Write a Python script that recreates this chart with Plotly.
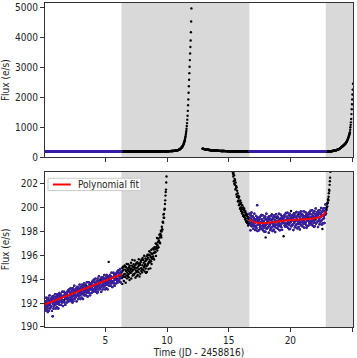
import numpy as np
import plotly.graph_objects as go

# ---------------- data ----------------
CADENCE = 0.020833            # days, 30-min full-frame-image cadence
orbit1_start = 0.10           # days (JD - 2458816)
orbit2_start = 12.87

orbit1_flux = [
    192.15, 191.45, 191.95, 191.65, 192.45, 191.75, 191.35, 192.05, 191.85, 192.25, 191.55, 191.25,
    191.75, 192.45, 191.35, 192.05, 192.25, 191.85, 192.65, 191.55, 191.95, 192.15, 191.65, 192.35,
    192.15, 191.75, 192.45, 191.35, 192.25, 192.55, 190.90, 191.95, 192.35, 191.55, 192.55, 192.05,
    191.75, 192.35, 192.15, 192.75, 191.85, 192.25, 191.55, 192.45, 192.05, 192.55, 191.95, 191.65,
    192.75, 192.15, 191.95, 192.45, 191.55, 192.65, 192.35, 192.05, 192.85, 191.85, 192.25, 192.55,
    192.35, 192.75, 192.15, 191.85, 192.65, 192.45, 192.05, 192.95, 192.25, 192.55, 191.75, 192.55,
    192.15, 192.55, 192.95, 192.25, 192.05, 192.75, 192.45, 191.85, 192.85, 192.65, 192.35, 192.55,
    192.75, 192.05, 192.85, 192.95, 192.45, 192.25, 193.05, 192.35, 192.15, 192.65, 193.15, 192.35,
    192.95, 192.25, 192.75, 192.45, 193.25, 192.55, 192.15, 192.85, 192.65, 193.05, 192.35, 192.05,
    192.55, 193.25, 192.15, 192.85, 193.05, 192.65, 193.45, 192.35, 192.75, 192.95, 192.45, 193.15,
    192.95, 192.55, 193.25, 192.15, 193.05, 193.35, 192.65, 192.75, 193.15, 192.35, 193.35, 192.85,
    192.55, 193.15, 192.95, 193.55, 192.65, 193.05, 192.35, 193.25, 192.85, 193.35, 192.75, 192.45,
    193.55, 192.95, 192.75, 193.25, 192.35, 193.45, 193.15, 192.85, 193.65, 192.65, 193.05, 193.35,
    193.15, 193.55, 192.95, 192.65, 193.45, 193.25, 192.85, 193.75, 193.05, 193.35, 192.55, 193.35,
    192.95, 193.35, 193.75, 193.05, 192.85, 193.55, 193.25, 192.65, 193.65, 193.45, 193.15, 193.35,
    193.55, 192.85, 193.65, 193.75, 193.25, 193.05, 193.85, 193.15, 192.95, 193.45, 193.95, 193.15,
    193.75, 193.05, 193.55, 193.25, 194.05, 193.35, 192.95, 193.65, 193.45, 193.85, 193.15, 192.85,
    193.35, 194.05, 192.95, 193.65, 193.85, 193.45, 194.25, 193.15, 193.55, 193.75, 193.25, 193.95,
    193.75, 193.35, 194.05, 192.95, 193.85, 194.15, 193.45, 193.55, 193.95, 193.15, 194.15, 193.65,
    193.35, 193.95, 193.75, 194.35, 193.45, 193.85, 193.15, 194.05, 193.65, 194.15, 193.55, 193.25,
    194.35, 193.75, 193.55, 194.05, 193.15, 194.25, 193.95, 193.65, 195.45, 193.45, 193.85, 194.15,
    193.95, 194.35, 193.75, 193.45, 194.25, 194.05, 193.65, 194.55, 193.85, 194.15, 193.35, 194.15,
    193.75, 194.15, 194.55, 193.85, 193.65, 194.35, 194.05, 193.45, 194.45, 194.25, 193.95, 194.15,
    194.35, 193.65, 194.45, 194.55, 194.05, 193.85, 194.65, 193.95, 193.75, 194.25, 194.75, 193.95,
    194.55, 193.85, 194.35, 194.05, 194.85, 194.15, 193.75, 194.45, 194.25, 194.65,
    194.57, 194.09, 194.93, 193.61, 194.69, 195.05, 194.21, 194.33, 194.81, 193.85, 195.05, 194.45,
    195.15, 194.43, 194.19, 194.79, 193.71, 195.03, 194.67, 194.31, 195.27, 194.07, 194.55, 194.91,
    194.29, 194.77, 195.25, 194.41, 194.17, 195.01, 194.65, 193.93, 195.13, 194.89, 194.53, 194.77,
    194.54, 195.38, 194.06, 194.90, 195.14, 194.66, 195.62, 194.30, 194.78, 195.02, 194.42, 195.26,
    194.37, 195.09, 194.85, 195.57, 194.49, 194.97, 194.13, 195.21, 194.73, 195.33, 194.61, 194.25,
    194.95, 195.43, 194.71, 194.35, 195.31, 195.07, 194.59, 195.67, 194.83, 195.19, 194.23, 195.19,
    195.29, 194.45, 195.41, 195.53, 194.93, 194.69, 195.65, 194.81, 194.57, 195.17, 195.77, 194.81,
    195.61, 194.77, 195.37, 195.01, 195.97, 195.13, 194.65, 195.49, 195.25, 195.73, 194.89, 194.53,
    195.57, 195.09, 195.93, 194.61, 195.69, 196.05, 195.21, 195.33, 195.81, 194.85, 196.05, 195.45,
    196.35, 195.63, 195.39, 195.99, 194.91, 196.23, 195.87, 195.51, 196.47, 195.27, 195.75, 196.11,
    195.70, 196.14, 196.57, 195.91, 195.75, 196.48, 196.22, 195.65, 196.69, 196.53, 196.26, 196.50,
    196.25, 197.00, 195.95, 196.70, 196.95, 196.60, 197.45, 196.40, 196.85, 197.10, 196.65, 197.40,
    196.68, 197.24, 197.16, 197.73, 197.09, 197.49, 197.01, 197.81, 197.57, 198.06, 197.66, 197.50,
    198.00, 198.39, 198.18, 198.15, 198.78, 198.81, 198.72, 199.41, 199.14, 199.47, 199.14, 199.82,
    199.90, 200.30, 200.60, 201.00, 201.30, 201.50, 202.10, 202.60,
    203.1, 203.6, 204.0, 204.4, 204.8, 205.1, 205.4, 205.7, 206.0, 206.3,
    206.6, 206.9, 207.2, 207.5, 207.9, 208.3, 208.7, 209.1, 209.5, 210.0,
    210.5, 211.0, 211.6, 212.2, 212.9, 213.6, 214.4, 215.2, 216.1, 217.0,
    218.0, 219.0, 220.0, 221.1, 222.3, 223.6, 225.0, 226.5, 228.2, 230.0,
    232, 234, 236.5, 239, 242, 245.5, 249, 253, 257, 262,
    267, 273, 279, 286, 293, 301, 310, 319, 329, 340,
    352, 365, 380, 396, 414, 434, 456, 481, 508, 538,
    572, 610, 652, 699, 752, 812, 880, 957, 1045, 1145,
    1260, 1389, 1553, 1740, 1937, 2157, 2374, 2594, 2814, 3030,
    3250, 3470, 3687, 3907, 4180, 4540, 4980,
]

orbit2_flux = [
    290, 288, 286, 284, 282, 280, 277, 275, 274, 272,
    270, 268, 266, 265, 263, 261, 260, 258, 257, 255,
    254, 253, 251, 250, 249, 247, 246, 245, 244, 243,
    242, 240, 239, 238, 237, 236, 236, 235, 234, 233,
    232, 231, 230, 229.5, 228.7, 227.9, 227.2, 226.5, 225.8, 225.1,
    224.4, 223.8, 223.1, 222.5, 221.9, 221.3, 220.8, 220.2, 219.7, 219.1,
    218.6, 218.1, 217.6, 217.1, 216.7, 216.2, 215.8, 215.4, 214.9, 214.5,
    214.1, 213.7, 213.4, 213.0, 212.6, 212.3, 211.9, 211.6, 211.3, 210.9,
    210.6, 210.3, 210.0, 209.7, 209.4, 209.2, 208.9, 208.7, 208.4, 208.2,
    207.9, 207.7, 207.5, 207.2, 207.0, 206.8, 206.6, 206.4, 206.2, 206.0,
    205.8, 205.6, 205.4, 205.3, 205.1, 204.9, 204.8, 204.6, 204.5, 204.3,
    204.2, 203.7, 204.1, 203.5, 203.9, 203.2, 203.6, 203.0, 203.4, 202.8,
    202.6, 202.9, 202.2, 202.7, 202.0, 202.4, 201.9, 202.3, 201.5, 202.1,
    201.6, 201.8, 201.1, 201.7, 200.9, 201.4, 200.9, 201.2, 200.5, 201.0,
    200.6, 200.8, 200.2, 200.9, 200.3, 200.5, 199.9, 200.6, 200.0, 200.3,
    199.7, 200.4, 199.8, 200.0, 199.5, 200.2, 199.6, 199.9, 199.3, 200.0,
    199.4, 199.8, 199.2, 199.9, 199.3, 199.6, 199.0, 199.7, 199.1, 199.4,
    198.8, 199.5, 198.9, 199.3, 198.7, 199.4, 198.8, 199.1, 198.5, 199.2,
    198.6, 199.0, 198.7,
    199.48, 198.78, 198.55, 199.13, 198.09, 199.36, 199.02, 198.67, 199.59, 198.44, 198.90, 199.25,
    198.80, 199.26, 198.57, 198.22, 199.15, 198.92, 198.45, 199.49, 198.68, 199.03, 198.11, 199.03,
    198.37, 198.84, 199.30, 198.49, 198.26, 199.07, 200.20, 198.03, 199.18, 198.95, 198.60, 198.84,
    198.91, 198.10, 199.03, 199.14, 198.56, 198.33, 199.26, 198.45, 198.22, 198.80, 199.37, 198.45,
    199.00, 198.19, 198.77, 198.42, 199.34, 198.53, 198.07, 198.88, 198.65, 199.11, 198.30, 197.96,
    198.44, 199.25, 197.98, 197.50, 199.02, 198.55, 199.48, 198.21, 198.67, 198.90, 198.32, 199.13,
    198.82, 198.35, 199.16, 197.89, 198.93, 199.28, 198.47, 198.58, 199.05, 198.12, 199.28, 198.70,
    198.27, 198.96, 198.73, 199.42, 198.38, 198.85, 198.04, 199.08, 198.61, 199.19, 198.50, 198.15,
    199.34, 198.64, 198.41, 198.99, 197.95, 199.22, 198.88, 198.53, 199.45, 198.30, 198.76, 199.11,
    198.79, 199.25, 198.56, 198.21, 199.14, 198.91, 198.44, 199.48, 198.67, 199.02, 198.10, 199.02,
    198.47, 198.94, 199.40, 198.59, 198.36, 199.17, 198.82, 198.13, 199.28, 199.05, 198.70, 198.94,
    199.08, 197.60, 199.20, 199.31, 198.73, 198.50, 199.43, 198.62, 198.39, 198.97, 199.54, 198.62,
    199.23, 198.42, 199.00, 198.65, 199.57, 198.76, 198.30, 199.11, 198.88, 199.34, 198.53, 198.19,
    198.67, 199.48, 198.21, 199.02, 199.25, 198.78, 199.71, 198.44, 198.90, 199.13, 198.55, 199.36,
    199.05, 198.58, 199.39, 198.12, 199.16, 199.51, 198.70, 198.81, 199.28, 198.35, 199.51, 198.93,
    198.49, 199.18, 198.95, 199.64, 198.60, 199.07, 198.26, 199.30, 198.83, 199.41, 198.72, 198.37,
    199.56, 198.86, 198.63, 199.21, 198.17, 199.44, 199.10, 198.75, 199.67, 198.52, 198.98, 199.33,
    199.00, 199.46, 198.77, 198.42, 199.35, 199.12, 198.65, 199.69, 198.88, 199.23, 198.31, 199.23,
    198.67, 199.14, 199.60, 198.79, 198.56, 199.37, 199.02, 198.33, 199.48, 199.25, 198.90, 199.14,
    199.28, 198.47, 199.40, 199.51, 198.93, 198.70, 199.63, 198.82, 198.59, 199.17, 199.74, 198.82,
    199.43, 198.62, 199.20, 198.85, 199.77, 198.96, 198.50, 199.31, 199.08, 199.54, 198.73, 198.39,
    198.89, 199.70, 198.43, 199.24, 199.47, 199.00, 199.93, 198.66, 199.12, 199.35, 198.77, 199.58,
    199.30, 198.83, 199.64, 198.37, 199.41, 199.76, 198.95, 199.06, 199.53, 198.60, 199.76, 199.18,
    198.81, 199.50, 199.27, 199.96, 198.92, 199.39, 198.58, 199.62, 198.20, 199.73, 199.04, 198.69,
    199.93, 199.28, 199.10, 199.70, 198.70, 199.95, 199.65, 199.40, 200.25,
    199.7, 199.5, 199.9, 199.8, 200.0, 200.3, 200.1, 200.4, 200.4, 200.7,
    200.6, 200.9, 201.2, 201.5, 201.4, 201.9, 202.2, 202.5,
    203.0, 203.6, 204.2, 205.0, 205.8, 206.8, 207.9, 209.1, 210.5, 212.0,
    213.7, 215.5, 217.5, 219.5, 221.5, 223.5, 225.5, 227.5, 229.5, 231.5,
    233.5, 235, 237, 239, 242, 245, 248, 251, 254, 257,
    261, 265, 269, 274, 279, 284, 289, 295, 301, 308,
    315, 322, 330, 339, 348, 354, 360, 366, 373, 380,
    387, 395, 403, 411, 419, 428, 437, 446, 456, 466,
    477, 488, 500, 512, 530, 548, 568, 588, 610, 633,
    657, 683, 710, 738, 769, 800, 840, 920, 1005, 1085,
    1170, 1280, 1445, 1609, 1773, 1937, 2100, 2265, 2462,
]

# scattered-light windows (shaded) and points rejected from the fit
scattered_light_windows = [(6.30, 16.68), (22.87, 25.30)]
orbit1_rejected = [75, 160, 215, 248, 280]
orbit2_rejected = [246, 290, 316, 330, 345, 372, 410, 440, 467]

# polynomial fit curves
fit1_time = [0.10, 1.0, 2.0, 3.0, 4.0, 5.0, 6.29]
fit1_flux = [191.90, 192.26, 192.66, 193.06, 193.46, 193.86, 194.40]
fit2_time = [16.68, 17.0, 17.5, 18.0, 18.5, 19.0, 19.85, 20.5, 21.47, 22.0, 22.3, 22.6, 22.86]
fit2_flux = [199.00, 198.80, 198.70, 198.70, 198.76, 198.83, 198.93, 198.98, 199.04, 199.10, 199.18, 199.32, 199.64]

legend_label = "Polynomial fit"
x_range = [0.10, 25.08]
x_ticks = [5, 10, 15, 20, 25]
top_y_ticks = [0, 1000, 2000, 3000, 4000, 5000]
bottom_y_ticks = [190, 192, 194, 196, 198, 200, 202]

# ---------------- assemble ----------------
t1 = orbit1_start + CADENCE * np.arange(len(orbit1_flux))
t2 = orbit2_start + CADENCE * np.arange(len(orbit2_flux))
f1 = np.array(orbit1_flux, dtype=float)
f2 = np.array(orbit2_flux, dtype=float)


def outside_windows(t):
    keep = np.ones(len(t), dtype=bool)
    for lo, hi in scattered_light_windows:
        keep &= ~((t >= lo) & (t <= hi))
    return keep


use1 = outside_windows(t1)
use1[[i for i in orbit1_rejected if i < len(t1)]] = False
use2 = outside_windows(t2)
use2[[i for i in orbit2_rejected if i < len(t2)]] = False

t_all = np.concatenate([t1, t2])
f_all = np.concatenate([f1, f2])
t_use = np.concatenate([t1[use1], t2[use2]])
f_use = np.concatenate([f1[use1], f2[use2]])

BLUE = "#3b1eaa"
GRAY = "#d9d9d9"
FONT = "DejaVu Sans Condensed, Liberation Sans Narrow, DejaVu Sans, sans-serif"
TXT = "#222222"
MS = 2.4

W, H = 357, 358
ML, MR, MT, MB = 42, 4, 2, 27
PW, PH = W - ML - MR, H - MT - MB


def px_x(px):   # figure pixel -> paper x
    return (px - ML) / PW


def px_y(py):   # figure pixel -> paper y
    return 1 - (py - MT) / PH


fig = go.Figure()
for xa, ya in (("x", "y"), ("x2", "y2")):
    fig.add_trace(go.Scatter(x=t_all, y=f_all, mode="markers", xaxis=xa, yaxis=ya,
                             marker=dict(color="black", size=MS, line_width=0),
                             showlegend=False, hoverinfo="skip"))
    fig.add_trace(go.Scatter(x=t_use, y=f_use, mode="markers", xaxis=xa, yaxis=ya,
                             marker=dict(color=BLUE, size=MS, line_width=0),
                             showlegend=False, hoverinfo="skip"))

fig.add_trace(go.Scatter(x=fit1_time, y=fit1_flux, mode="lines", xaxis="x2", yaxis="y2",
                         line=dict(color="red", width=2), name=legend_label,
                         showlegend=False))
fig.add_trace(go.Scatter(x=fit2_time, y=fit2_flux, mode="lines", xaxis="x2", yaxis="y2",
                         line=dict(color="red", width=2, shape="spline"), name=legend_label,
                         showlegend=False))

for xr, yr in (("x", "y domain"), ("x2", "y2 domain")):
    for lo, hi in scattered_light_windows:
        fig.add_shape(type="rect", xref=xr, yref=yr, x0=max(lo, x_range[0]),
                      x1=min(hi, x_range[1]), y0=0, y1=1, fillcolor=GRAY,
                      line_width=0, layer="below")

# legend box (matplotlib style) in the lower panel
fig.add_shape(type="rect", xref="paper", yref="paper", x0=px_x(45), x1=px_x(139),
              y0=px_y(192.5), y1=px_y(180), fillcolor="rgba(255,255,255,0.85)",
              line=dict(color="#cccccc", width=1), layer="above")
fig.add_shape(type="line", xref="paper", yref="paper", x0=px_x(50), x1=px_x(68),
              y0=px_y(186.3), y1=px_y(186.3), line=dict(color="red", width=2), layer="above")
fig.add_annotation(xref="paper", yref="paper", x=px_x(73.5), y=px_y(186.3),
                   xanchor="left", yanchor="middle", text=legend_label, showarrow=False,
                   font=dict(family=FONT, size=10, color=TXT))

axis_common = dict(showline=True, mirror=True, linecolor="#333333", linewidth=1,
                   ticks="outside", ticklen=4, tickcolor="#333333", showgrid=False,
                   zeroline=False, tickfont=dict(family=FONT, size=10, color=TXT))

fig.update_layout(
    width=W, height=H,
    margin=dict(l=ML, r=MR, t=MT, b=MB),
    paper_bgcolor="white", plot_bgcolor="white",
    font=dict(family=FONT, size=10, color=TXT),
    showlegend=False,
    xaxis=dict(domain=[0, 1], range=x_range, tickvals=x_ticks, showticklabels=False,
               anchor="y", **axis_common),
    yaxis=dict(domain=[px_y(158.7), 1], range=[0, 5160], tickvals=top_y_ticks, anchor="x",
               title=dict(text="Flux (e/s)", standoff=6, font=dict(family=FONT, size=10, color=TXT)),
               **axis_common),
    xaxis2=dict(domain=[0, 1], range=x_range, tickvals=x_ticks, anchor="y2",
                title=dict(text="Time (JD - 2458816)", standoff=3,
                           font=dict(family=FONT, size=10, color=TXT)),
                **axis_common),
    yaxis2=dict(domain=[0, px_y(173.3)], range=[190, 203], tickvals=bottom_y_ticks, anchor="x2",
                title=dict(text="Flux (e/s)", standoff=10, font=dict(family=FONT, size=10, color=TXT)),
                **axis_common),
)

fig.write_html("out.html", config={"displayModeBar": False})
